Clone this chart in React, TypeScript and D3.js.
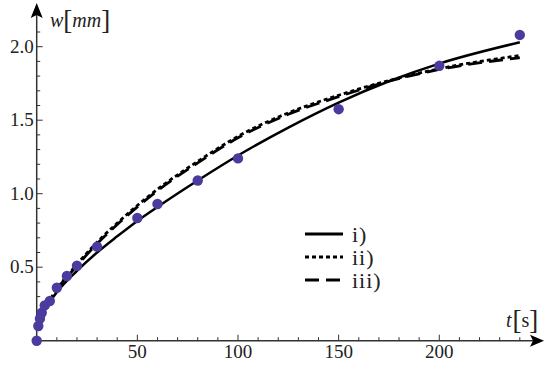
import * as d3 from 'd3';
import * as React from 'react';

// measured points
const measT = [0, 0.8, 1.6, 2.5, 4, 6.5, 10, 15, 20, 30, 50, 60, 80, 100, 150, 200, 240];
const measW = [0, 0.1, 0.15, 0.19, 0.24, 0.27, 0.36, 0.44, 0.51, 0.64, 0.835, 0.93, 1.09, 1.24, 1.575, 1.87, 2.08];

// model curves
const curveT = [0, 2, 5, 10, 20, 30, 40, 50, 60, 80, 100, 125, 150, 175, 200, 240];
const curveI = [0.085, 0.16, 0.235, 0.33, 0.475, 0.6, 0.71, 0.815, 0.91, 1.09, 1.26, 1.45, 1.62, 1.765, 1.885, 2.03];
const curveII = [0.07, 0.15, 0.24, 0.35, 0.52, 0.67, 0.8, 0.92, 1.03, 1.22, 1.39, 1.55, 1.67, 1.77, 1.85, 1.94];
const curveIII = [0.08, 0.16, 0.25, 0.35, 0.51, 0.66, 0.79, 0.91, 1.02, 1.21, 1.38, 1.54, 1.66, 1.765, 1.845, 1.925];

const xMajor = [50, 100, 150, 200];
const yMajor = [0.5, 1.0, 1.5, 2.0];
const legendLabels = ['i)', 'ii)', 'iii)'];
const legendDash = ['none', '4,3', '14,7'];

const font = 'Liberation Serif';
const axisColor = '#333';

export default function App() {
  const width = 550;
  const height = 366;

  const x = d3.scaleLinear().domain([0, 240]).range([36.7, 519.8]);
  const y = d3.scaleLinear().domain([0, 2]).range([340.7, 46.7]);

  const xMinor = d3.range(10, 241, 10).filter((t) => !xMajor.includes(t));
  const yMinor = d3.range(1, 22).map((v) => v / 10).filter((v) => !yMajor.some((m) => Math.abs(m - v) < 1e-6));

  const line = d3
    .line<[number, number]>()
    .x((d) => x(d[0]))
    .y((d) => y(d[1]))
    .curve(d3.curveMonotoneX);

  const series = [curveI, curveII, curveIII].map((vals) =>
    line(curveT.map((t, i) => [t, vals[i]] as [number, number]))
  );

  const x0 = x(0);
  const y0 = y(0);

  return (
    <svg width={width} height={height} fontFamily={font} style={{ position: 'absolute', left: 0, top: 0, background: '#fff' }}>
      {/* axes */}
      <line x1={x0} x2={534} y1={y0} y2={y0} stroke={axisColor} strokeWidth={1.5} />
      <path d={`M544,${y0} L530,${y0 - 6} L533,${y0} L530,${y0 + 6} Z`} fill="#000" />
      <line x1={x0} x2={x0} y1={y0} y2={14} stroke={axisColor} strokeWidth={1.5} />
      <path d={`M${x0},3 L${x0 - 6},18 L${x0},15 L${x0 + 6},18 Z`} fill="#000" />

      {xMinor.map((t) => (
        <line key={'xm' + t} x1={x(t)} x2={x(t)} y1={y0} y2={y0 - 3.5} stroke={axisColor} strokeWidth={1} />
      ))}
      {xMajor.map((t) => (
        <g key={'xM' + t}>
          <line x1={x(t)} x2={x(t)} y1={y0} y2={y0 - 6} stroke={axisColor} strokeWidth={1} />
          <text x={x(t)} y={y0 + 17} textAnchor="middle" fontFamily={font} fontSize={19} fill="#222">
            {t}
          </text>
        </g>
      ))}
      {yMinor.map((v) => (
        <line key={'ym' + v} x1={x0} x2={x0 + 3.5} y1={y(v)} y2={y(v)} stroke={axisColor} strokeWidth={1} />
      ))}
      {yMajor.map((v) => (
        <g key={'yM' + v}>
          <line x1={x0} x2={x0 + 6} y1={y(v)} y2={y(v)} stroke={axisColor} strokeWidth={1} />
          <text x={x0 - 3} y={y(v) + 6} textAnchor="end" fontFamily={font} fontSize={19} fill="#222">
            {v.toFixed(1)}
          </text>
        </g>
      ))}

      {/* axis titles */}
      <text x={50} y={27} fontFamily={font} fontSize={20} fill="#222">
        <tspan fontStyle="italic">w</tspan>
        <tspan fontSize={27} dy={2}>[</tspan>
        <tspan fontStyle="italic" dy={-2}>mm</tspan>
        <tspan fontSize={27} dy={2}>]</tspan>
      </text>
      <text x={506} y={327} fontFamily={font} fontSize={20} fill="#222">
        <tspan fontStyle="italic">t</tspan>
        <tspan fontSize={27} dy={2} dx={1}>[</tspan>
        <tspan dy={-2}>s</tspan>
        <tspan fontSize={27} dy={2}>]</tspan>
      </text>

      {/* model curves */}
      <path d={series[0] ?? ''} fill="none" stroke="#000" strokeWidth={2.5} />
      <path d={series[2] ?? ''} fill="none" stroke="#000" strokeWidth={2.8} strokeDasharray={legendDash[2]} />
      <path d={series[1] ?? ''} fill="none" stroke="#000" strokeWidth={2.8} strokeDasharray={legendDash[1]} />

      {/* measured points */}
      {measT.map((t, i) => (
        <circle key={'p' + i} cx={x(t)} cy={y(measW[i])} r={5.2} fill="#4c3b9e" />
      ))}

      {/* legend */}
      {legendLabels.map((lab, i) => (
        <g key={lab} transform={`translate(305,${234 + i * 23})`}>
          <line
            x1={0}
            x2={38}
            y1={0}
            y2={0}
            stroke="#000"
            strokeWidth={3}
            strokeDasharray={legendDash[i] === 'none' ? undefined : legendDash[i]}
          />
          <text x={47} y={7.5} fontFamily={font} fontSize={22} letterSpacing={1} fill="#222">
            {lab}
          </text>
        </g>
      ))}
    </svg>
  );
}
